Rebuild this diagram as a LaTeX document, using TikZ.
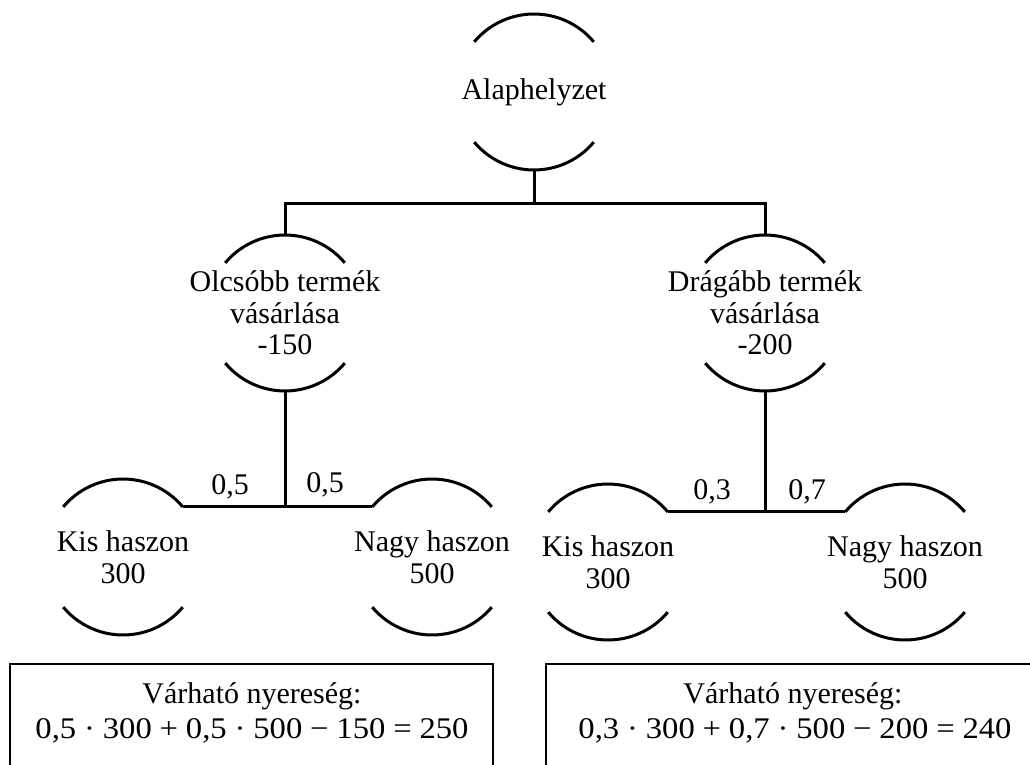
\documentclass[tikz,border=0pt]{standalone}
\usepackage{fontspec}
\setmainfont{Liberation Serif}
\usetikzlibrary{calc}
\newcommand\halfarcs[1]{%
  \draw[ln] (#1.140) arc[start angle=140,end angle=40,radius=78pt];
  \draw[ln] (#1.220) arc[start angle=220,end angle=320,radius=78pt];}
\newcommand\mop[1]{\hspace{0.24em}#1\hspace{0.24em}}
\newcommand\formula[1]{\resizebox{433pt}{\height}{#1}}
\begin{document}
\begin{tikzpicture}[x=1pt,y=1pt,
  circ/.style={circle,minimum size=156pt,inner sep=0pt,outer sep=0pt,draw=none},
  txt/.style={align=center,font=\fontsize{30}{31.5}\selectfont,inner sep=0pt},
  lbl/.style={font=\fontsize{30}{32}\selectfont,inner sep=0pt},
  ln/.style={line width=3pt,line join=miter},
  boxln/.style={line width=2.2pt}]
\useasboundingbox (0,0) rectangle (1030,764);
\clip (0,0) rectangle (1030,764);
% decision / outcome circles (drawn as two arcs)
\node[circ] (A) at (534,672) {};
\node[circ] (O) at (285,451) {};
\node[circ] (D) at (765,451) {};
\node[circ] (K1) at (123,207) {};
\node[circ] (N1) at (432,207) {};
\node[circ] (K2) at (608,202) {};
\node[circ] (N2) at (905,202) {};
\halfarcs{A}\halfarcs{O}\halfarcs{D}
\halfarcs{K1}\halfarcs{N1}\halfarcs{K2}\halfarcs{N2}
% texts
\node[txt] (At) at (A) {Alaphelyzet};
\node[txt] (Ot) at (O) {Olcsóbb termék\\vásárlása\\-150};
\node[txt] (Dt) at (D) {Drágább termék\\vásárlása\\-200};
\node[txt] (K1t) at (K1) {Kis haszon\\300};
\node[txt] (N1t) at (N1) {Nagy haszon\\500};
\node[txt] (K2t) at (K2) {Kis haszon\\300};
\node[txt] (N2t) at (N2) {Nagy haszon\\500};
% connectors
\coordinate (j0) at (534,560);
\draw[ln] (A.south) -- (j0);
\draw[ln] (O.north) |- (j0) -| (D.north);
\coordinate (j1) at (285,257);
\draw[ln] (O.south) -- (j1);
\draw[ln] (K1.40) -- (N1.140);
\coordinate (j2) at (765,252);
\draw[ln] (D.south) -- (j2);
\draw[ln] (K2.40) -- (N2.140);
% probabilities
\node[lbl] (p1) at (230,277) {0,5};
\node[lbl] (p2) at (325,279) {0,5};
\node[lbl] (p3) at (712,272) {0,3};
\node[lbl] (p4) at (807,272) {0,7};
% result boxes
\draw[boxln] (10,-20) |- (493,100) -- (493,-20);
\draw[boxln] (546,-20) |- (1040,100);
\node[lbl] (v1) at (252,68) {Várható nyereség:};
\node[lbl] (f1) at (252,33) {\formula{0,5\mop{·}300\mop{+}0,5\mop{·}500\mop{−}150\mop{=}250}};
\node[lbl] (v2) at (793,68) {Várható nyereség:};
\node[lbl] (f2) at (795,33) {\formula{0,3\mop{·}300\mop{+}0,7\mop{·}500\mop{−}200\mop{=}240}};
\end{tikzpicture}
\end{document}
